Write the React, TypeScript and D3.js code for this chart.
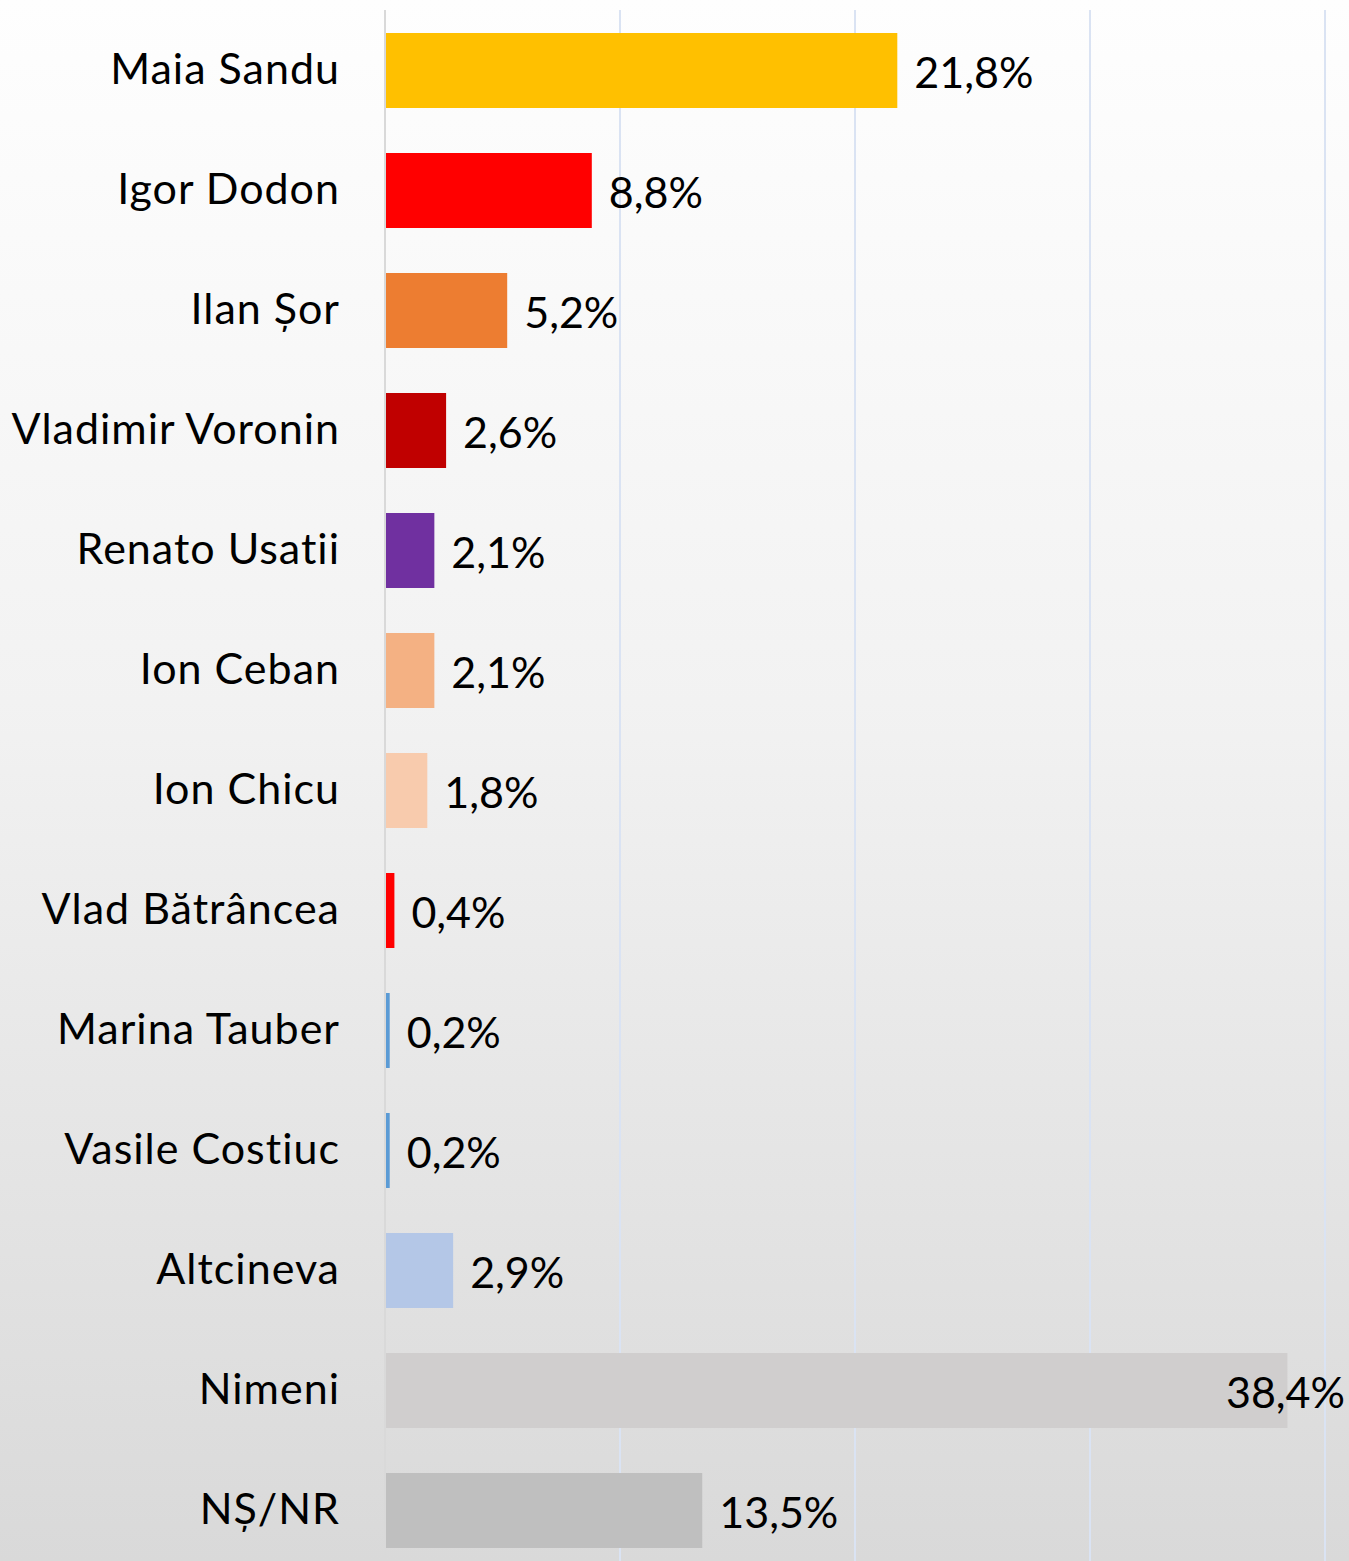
import React, { useRef, useEffect } from 'react';
import * as d3 from 'd3';

// data
const candidates = [
  'Maia Sandu', 'Igor Dodon', 'Ilan Șor', 'Vladimir Voronin', 'Renato Usatii',
  'Ion Ceban', 'Ion Chicu', 'Vlad Bătrâncea', 'Marina Tauber', 'Vasile Costiuc',
  'Altcineva', 'Nimeni', 'NȘ/NR',
];
const shares = [21.8, 8.8, 5.2, 2.6, 2.1, 2.1, 1.8, 0.4, 0.2, 0.2, 2.9, 38.4, 13.5];
const barColors = [
  '#ffc000', '#ff0000', '#ed7d31', '#c00000', '#7030a0',
  '#f4b183', '#f8cbad', '#ff0000', '#5b9bd5', '#5b9bd5',
  '#b4c7e7', '#d0cece', '#bfbfbf',
];
const gridTicks = [10, 20, 30, 40];

const App = ({ width = 1349, height = 1561 }) => {
  const svgRef = useRef<SVGSVGElement>(null);

  useEffect(() => {
    const svg = d3.select(svgRef.current);
    svg.selectAll('*').remove();

    const margin = { top: 10.5, right: 24, left: 385 };
    const rowStep = 120;
    const font = 'Lato, Carlito, "Open Sans", sans-serif';

    // background gradient
    const defs = svg.append('defs');
    const grad = defs.append('linearGradient')
      .attr('id', 'bg')
      .attr('x1', 0).attr('y1', 0).attr('x2', 0).attr('y2', 1);
    grad.append('stop').attr('offset', '0%').attr('stop-color', '#fefefe');
    grad.append('stop').attr('offset', '45%').attr('stop-color', '#f2f2f2');
    grad.append('stop').attr('offset', '100%').attr('stop-color', '#d9d9d9');

    svg.append('rect')
      .attr('width', width)
      .attr('height', height)
      .attr('fill', 'url(#bg)');

    const x = d3.scaleLinear()
      .domain([0, 40])
      .range([margin.left, width - margin.right]);

    const y = d3.scaleBand()
      .domain(candidates)
      .range([margin.top, margin.top + candidates.length * rowStep])
      .paddingInner(0.375)
      .paddingOuter(0.1875);

    // grid lines
    svg.append('g')
      .selectAll('line')
      .data(gridTicks)
      .enter()
      .append('line')
      .attr('x1', d => x(d))
      .attr('x2', d => x(d))
      .attr('y1', 10)
      .attr('y2', height)
      .attr('stroke', '#dae3f3')
      .attr('stroke-width', 2);

    // bars
    svg.append('g')
      .selectAll('rect')
      .data(candidates)
      .enter()
      .append('rect')
      .attr('x', x(0) + 1)
      .attr('y', d => y(d)!)
      .attr('width', (d, i) => Math.max(3, x(shares[i]) - x(0) - 1))
      .attr('height', y.bandwidth())
      .attr('fill', (d, i) => barColors[i]);

    // axis line
    svg.append('line')
      .attr('x1', x(0))
      .attr('x2', x(0))
      .attr('y1', 10)
      .attr('y2', height)
      .attr('stroke', '#d9d9d9')
      .attr('stroke-width', 2);

    // category labels
    svg.append('g')
      .selectAll('text')
      .data(candidates)
      .enter()
      .append('text')
      .attr('x', 340)
      .attr('y', d => y(d)! + y.bandwidth() / 2 - 2)
      .attr('dy', '0.35em')
      .attr('text-anchor', 'end')
      .attr('font-family', font)
      .attr('font-size', 43)
      .attr('letter-spacing', 1)
      .attr('fill', '#000')
      .text(d => d);

    // value labels
    const fmt = (v: number) => v.toFixed(1).replace('.', ',') + '%';
    const overflows = (i: number) => x(shares[i]) + 17 + 118 > width;
    svg.append('g')
      .selectAll('text')
      .data(candidates)
      .enter()
      .append('text')
      .attr('x', (d, i) => (overflows(i) ? width - 4 : x(shares[i]) + 17))
      .attr('y', d => y(d)! + y.bandwidth() / 2 + 2)
      .attr('dy', '0.35em')
      .attr('text-anchor', (d, i) => (overflows(i) ? 'end' : 'start'))
      .attr('font-family', font)
      .attr('font-size', 43)
      .attr('fill', '#000')
      .text((d, i) => fmt(shares[i]));
  }, [width, height]);

  return (
    <svg
      ref={svgRef}
      width={width}
      height={height}
      style={{ position: 'absolute', top: 0, left: 0, display: 'block' }}
    />
  );
};

export default App;
